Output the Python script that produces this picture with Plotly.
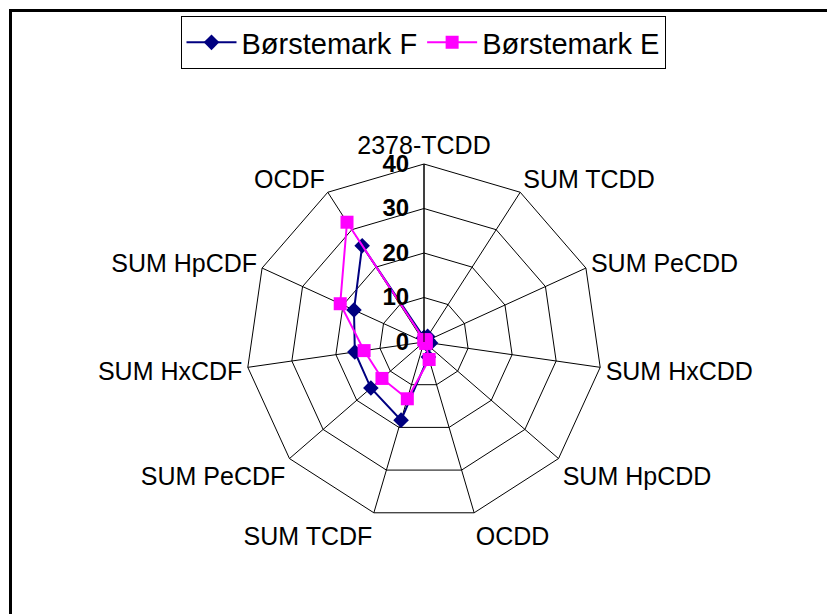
import plotly.graph_objects as go

categories = ['2378-TCDD', 'SUM TCDD', 'SUM PeCDD', 'SUM HxCDD', 'SUM HpCDD', 'OCDD',
              'SUM TCDF', 'SUM PeCDF', 'SUM HxCDF', 'SUM HpCDF', 'OCDF']
borstemark_f = [1.0, 1.5, 1.0, 1.5, 1.0, 3.5, 18.3, 15.8, 15.7, 17.3, 25.7]
borstemark_e = [0.5, 0.5, 0.5, 0.5, 0.5, 4.1, 13.3, 12.5, 13.6, 20.7, 32.0]
radial_ticks = [0, 10, 20, 30, 40]

W, H = 835, 614
off = 8  # page body margin
cx, cy, R = 424 - off, 342 - off, 178

fig = go.Figure()
fig.add_trace(go.Scatterpolar(
    r=borstemark_f + borstemark_f[:1], theta=categories + categories[:1],
    name='Børstemark F', mode='lines+markers',
    line=dict(color='#000080', width=2),
    marker=dict(symbol='diamond', size=12, color='#000080'),
))
fig.add_trace(go.Scatterpolar(
    r=borstemark_e + borstemark_e[:1], theta=categories + categories[:1],
    name='Børstemark E', mode='lines+markers',
    line=dict(color='#FF00FF', width=2),
    marker=dict(symbol='square', size=13, color='#FF00FF'),
))

fig.update_layout(
    width=W, height=H,
    margin=dict(l=0, r=0, t=0, b=0),
    paper_bgcolor='white',
    font=dict(family='Liberation Sans, Arial', color='black'),
    polar=dict(
        domain=dict(x=[(cx - R) / W, (cx + R) / W],
                    y=[(H - cy - R) / H, (H - cy + R) / H]),
        bgcolor='white',
        gridshape='linear',
        radialaxis=dict(
            range=[0, 40], tickvals=radial_ticks, angle=90, tickangle=90,
            side='counterclockwise',
            showline=True, linecolor='black', linewidth=1,
            gridcolor='black', gridwidth=1,
            ticks='outside', ticklen=6, tickcolor='rgba(0,0,0,0)',
            tickfont=dict(size=24, family='Liberation Sans, Arial', weight='bold'),
        ),
        angularaxis=dict(
            direction='clockwise', rotation=90,
            showline=True, linecolor='black', linewidth=1,
            gridcolor='black', gridwidth=1, ticks='',
            tickfont=dict(size=25),
        ),
    ),
    showlegend=True,
    legend=dict(
        orientation='h', x=(423 - off) / W, y=1 - (16 - off) / H,
        xanchor='center', yanchor='top',
        bordercolor='black', borderwidth=1, bgcolor='white',
        font=dict(size=29), itemwidth=50,
    ),
    shapes=[dict(type='rect', xref='paper', yref='paper',
                 x0=(10.5 - off) / W, x1=1.2, y0=-0.2, y1=1 - (10.5 - off) / H,
                 line=dict(color='black', width=3))],
)

fig.write_html('out.html')
